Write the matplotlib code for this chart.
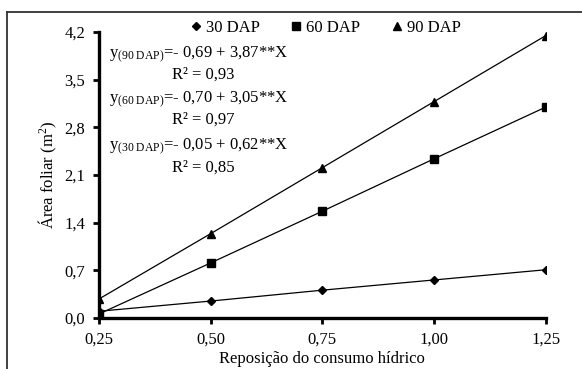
import matplotlib
matplotlib.use("Agg")
import matplotlib.pyplot as plt
from matplotlib.lines import Line2D

plt.rcParams["font.family"] = ["Liberation Serif", "DejaVu Serif"]
plt.rcParams["mathtext.fontset"] = "custom"
plt.rcParams["mathtext.rm"] = "Liberation Serif"
plt.rcParams["mathtext.it"] = "Liberation Serif:italic"

# data
reposicao = [0.25, 0.50, 0.75, 1.00, 1.25]
dap30 = [0.10, 0.25, 0.41, 0.56, 0.71]
dap60 = [0.06, 0.81, 1.57, 2.34, 3.10]
dap90 = [0.28, 1.24, 2.21, 3.18, 4.15]

x_ticks = [0.25, 0.50, 0.75, 1.00, 1.25]
x_labels = ["0,25", "0,50", "0,75", "1,00", "1,25"]
y_ticks = [0.0, 0.7, 1.4, 2.1, 2.8, 3.5, 4.2]
y_labels = ["0,0", "0,7", "1,4", "2,1", "2,8", "3,5", "4,2"]

equations = [
    ("90 DAP", "- 0,69 + 3,87**X", "0,93"),
    ("60 DAP", "- 0,70 + 3,05**X", "0,97"),
    ("30 DAP", "- 0,05 + 0,62**X", "0,85"),
]

fig = plt.figure(figsize=(5.82, 3.69), dpi=100)
ax = fig.add_axes([0.170, 0.138, 0.768, 0.775])

ax.plot(reposicao, dap30, color="black", lw=0.9, marker="D", ms=4.2, label="30 DAP")
ax.plot(reposicao, dap60, color="black", lw=0.9, marker="s", ms=5.8, label="60 DAP")
ax.plot(reposicao, dap90, color="black", lw=0.9, marker="^", ms=5.5, label="90 DAP")

ax.set_xlim(0.25, 1.25)
ax.set_ylim(0.0, 4.2)
ax.set_xticks(x_ticks)
ax.set_xticklabels(x_labels)
ax.set_yticks(y_ticks)
ax.set_yticklabels(y_labels)
ax.tick_params(direction="out", length=4, width=2, labelsize=12)
ax.tick_params(axis="x", pad=6)
ax.tick_params(axis="y", pad=6)

for side in ("top", "right"):
    ax.spines[side].set_visible(False)
for side in ("left", "bottom"):
    ax.spines[side].set_linewidth(2.4)

ax.set_xlabel("Reposição do consumo hídrico", fontsize=12, labelpad=2.5)
ax.set_ylabel("Área foliar (m$^\\mathregular{2}$)", fontsize=12, labelpad=4)

handles = [
    Line2D([], [], color="black", ls="none", marker="D", ms=4.2),
    Line2D([], [], color="black", ls="none", marker="s", ms=5.8),
    Line2D([], [], color="black", ls="none", marker="^", ms=5.5),
]
fig.legend(handles, ["30 DAP", "60 DAP", "90 DAP"], loc="center",
           bbox_to_anchor=(0.56, 0.925), ncol=3, frameon=False, fontsize=12,
           handlelength=0.6, handletextpad=0.3, columnspacing=1.9)

eq_y = [0.851, 0.729, 0.601]
for (lab, eq, r2), yy in zip(equations, eq_y):
    fig.text(0.188, yy, "y$_\\mathregular{(%s)}$=%s" % (lab.replace(" ", "\\ "), eq),
             fontsize=12, va="center", ha="left")
    fig.text(0.295, yy - 0.054, "R² = %s" % r2, fontsize=12, va="center", ha="left")

# outer frame of the original figure (cropped)
fig.add_artist(Line2D([0.012, 0.012], [0.0, 0.967], color="#333333", lw=1.3,
                      transform=fig.transFigure))
fig.add_artist(Line2D([0.012, 1.0], [0.967, 0.967], color="#333333", lw=1.3,
                      transform=fig.transFigure))

fig.savefig("out.png", dpi=100)
